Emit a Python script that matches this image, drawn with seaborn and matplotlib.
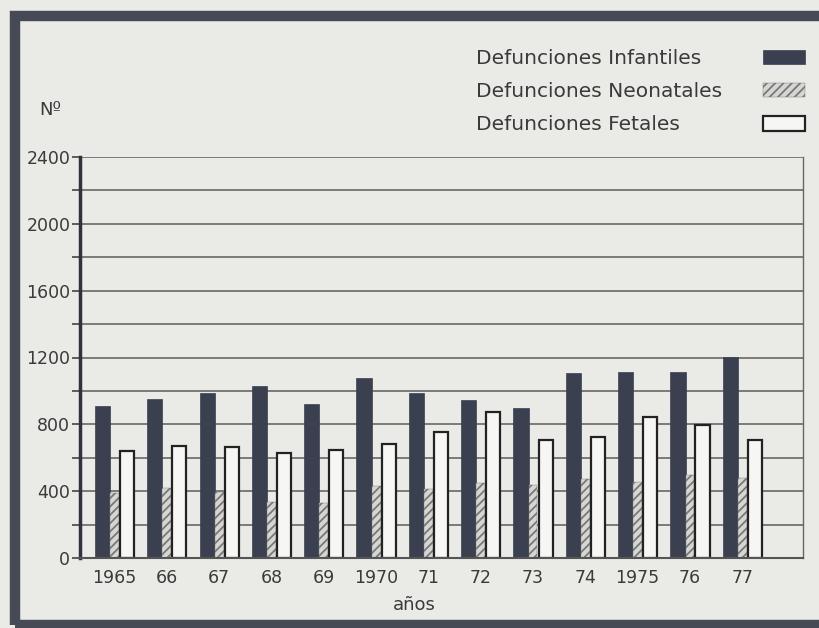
import pandas as pd
import matplotlib.pyplot as plt
import seaborn as sns
from matplotlib.patches import Rectangle
from matplotlib.ticker import MultipleLocator

# datos
anios = ['1965', '66', '67', '68', '69', '1970', '71', '72', '73', '74', '1975', '76', '77']
infantiles = [910, 950, 990, 1030, 920, 1075, 990, 945, 895, 1110, 1115, 1115, 1205]
neonatales = [390, 420, 395, 335, 330, 430, 415, 450, 435, 470, 455, 495, 480]
fetales = [640, 670, 665, 630, 645, 685, 755, 875, 705, 725, 845, 795, 705]
series = ['Defunciones Infantiles', 'Defunciones Neonatales', 'Defunciones Fetales']

df = pd.DataFrame({
    'anio': anios,
    series[0]: infantiles,
    series[1]: neonatales,
    series[2]: fetales,
}).melt(id_vars='anio', var_name='tipo', value_name='n')

bg = '#eaeae7'
oscuro = '#3b4050'
gris = '#d6d6d3'
blanco = '#f6f6f4'
txt = '#3a3a3a'

sns.set_theme(style='white')
plt.rcParams['font.family'] = ['DejaVu Sans']
plt.rcParams['hatch.linewidth'] = 1.3

fig = plt.figure(figsize=(8.19, 6.28), dpi=100, facecolor=bg)
ax = fig.add_axes([80/819, 70/628, 723/819, 401/628])
ax.set_facecolor(bg)

sns.barplot(data=df, x='anio', y='n', hue='tipo', order=anios, hue_order=series,
            palette=[oscuro, gris, blanco], width=0.75, saturation=1,
            errorbar=None, legend=False, ax=ax)

#anchos distintos: la barra rayada es mas estrecha
for p0, p1, p2 in zip(ax.containers[0], ax.containers[1], ax.containers[2]):
    c = p1.get_x() + p1.get_width() / 2
    p1.set_x(c - 0.085)
    p1.set_width(0.17)
    p0.set_width(c - 0.085 - p0.get_x())
    p2.set_width(p2.get_x() + p2.get_width() - (c + 0.105))
    p2.set_x(c + 0.105)

#estilo de las barras
for p in ax.containers[0]:
    p.set_edgecolor(oscuro)
    p.set_linewidth(0.5)
for p in ax.containers[1]:
    p.set_hatch('////')
    p.set_edgecolor('#787878')
    p.set_linewidth(0.3)
for p in ax.containers[2]:
    p.set_edgecolor('#222222')
    p.set_linewidth(1.6)

ax.set_xlim(-0.66, 13.16)
ax.set_ylim(0, 2400)
ax.yaxis.set_major_locator(MultipleLocator(400))
ax.yaxis.set_minor_locator(MultipleLocator(200))
ax.grid(axis='y', which='both', color='#5c5c5c', lw=1.1)
ax.set_axisbelow(True)

ax.spines['top'].set_visible(False)
ax.spines['left'].set_color('#2f323c')
ax.spines['left'].set_linewidth(2.5)
ax.spines['bottom'].set_color('#555555')
ax.spines['bottom'].set_linewidth(1.5)
ax.spines['right'].set_color('#666666')
ax.spines['right'].set_linewidth(1.0)

ax.tick_params(axis='y', which='both', left=True, length=6, width=1.2, color='#444444',
               labelsize=12.5, labelcolor=txt, pad=1)
ax.tick_params(axis='x', length=0, pad=8, labelsize=12.5, labelcolor=txt)

ax.set_ylabel('Nº', rotation=0, fontsize=13, color=txt, va='center', ha='center')
ax.yaxis.set_label_coords(-0.041, 1.117)
ax.set_xlabel('años', fontsize=13, color=txt, va='center')
ax.xaxis.set_label_coords(0.463, -0.117)

#leyenda arriba a la derecha
handles = [c[0] for c in ax.containers]
leg = fig.legend(handles, series, loc='upper right', bbox_to_anchor=(805/819, 1 - 49/628),
                 markerfirst=False, frameon=False, fontsize=14.5, labelcolor=txt,
                 handlelength=2.1, handleheight=0.75, handletextpad=2.0,
                 labelspacing=0.7, borderpad=0, borderaxespad=0)

#alinear textos a la izquierda
fig.canvas.draw()
r = fig.canvas.get_renderer()
items = leg._legend_handle_box.get_children()[0].get_children()
ws = [t.get_window_extent(r).width for t in leg.get_texts()]
for item, w in zip(items, ws):
    item.sep += (max(ws) - w) * 72 / fig.dpi

#marco exterior
fig.add_artist(Rectangle((15/819, 3/628), 1.2, 1 - 16/628 - 3/628, transform=fig.transFigure,
                         fill=False, lw=7.5, edgecolor='#464a55'))

fig.savefig('out.png', dpi=100, facecolor=bg)
